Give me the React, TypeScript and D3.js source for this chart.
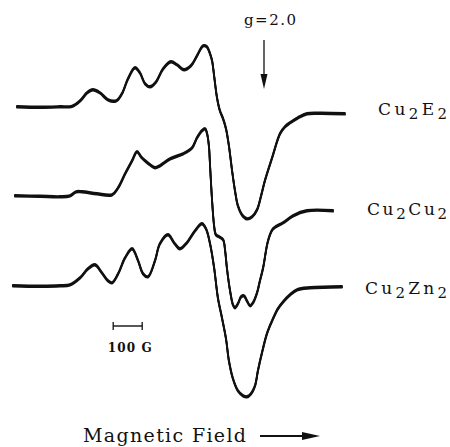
import React from 'react';
import * as d3 from 'd3';

// EPR first-derivative spectra, field in gauss, amplitude in arbitrary units
const e2Field = [2548, 2628, 2697, 2738, 2766, 2790, 2810, 2834, 2862, 2890, 2910, 2931, 2955, 2972, 2990, 3007, 3028, 3052, 3079, 3100, 3124, 3148, 3169, 3190, 3203, 3214, 3221, 3228, 3238, 3248, 3259, 3269, 3279, 3290, 3300, 3310, 3324, 3341, 3359, 3376, 3390, 3403, 3428, 3455, 3472, 3490, 3517, 3548, 3593, 3679];
const e2Signal = [0, -0.005, 0, 0.005, 0.06, 0.14, 0.17, 0.14, 0.07, 0.06, 0.13, 0.28, 0.39, 0.34, 0.23, 0.2, 0.25, 0.38, 0.45, 0.42, 0.37, 0.41, 0.51, 0.61, 0.6, 0.53, 0.46, 0.31, 0.09, -0.04, -0.12, -0.22, -0.39, -0.64, -0.84, -0.99, -1.08, -1.12, -1.1, -1.03, -0.89, -0.74, -0.51, -0.27, -0.2, -0.16, -0.11, -0.07, -0.065, -0.07];

const cuField = [2541, 2628, 2697, 2731, 2752, 2772, 2824, 2876, 2897, 2921, 2945, 2962, 2976, 2990, 3007, 3024, 3041, 3076, 3121, 3152, 3169, 3186, 3197, 3203, 3210, 3214, 3221, 3228, 3234, 3245, 3259, 3266, 3272, 3283, 3293, 3300, 3310, 3321, 3331, 3341, 3352, 3362, 3376, 3386, 3397, 3414, 3431, 3466, 3500, 3548, 3638];
const cuSignal = [0, -0.005, -0.01, 0, 0.04, 0.04, 0.02, 0.01, 0.08, 0.22, 0.35, 0.44, 0.39, 0.35, 0.31, 0.28, 0.3, 0.37, 0.42, 0.48, 0.58, 0.65, 0.67, 0.63, 0.5, 0.3, -0.05, -0.3, -0.39, -0.41, -0.44, -0.55, -0.72, -0.95, -1.09, -1.12, -1.08, -1.01, -1.0, -1.05, -1.1, -1.07, -0.97, -0.85, -0.72, -0.45, -0.33, -0.27, -0.2, -0.15, -0.15];

const znField = [2534, 2628, 2697, 2731, 2766, 2793, 2817, 2841, 2862, 2876, 2897, 2921, 2945, 2966, 2983, 3000, 3024, 3041, 3069, 3090, 3110, 3134, 3162, 3186, 3200, 3214, 3228, 3241, 3255, 3269, 3279, 3293, 3310, 3328, 3341, 3355, 3369, 3379, 3393, 3410, 3428, 3448, 3466, 3490, 3514, 3559, 3669];
const znSignal = [0, -0.005, 0, 0.01, 0.08, 0.17, 0.21, 0.13, 0.05, 0.03, 0.12, 0.28, 0.37, 0.25, 0.12, 0.09, 0.25, 0.42, 0.51, 0.43, 0.37, 0.43, 0.55, 0.62, 0.57, 0.42, 0.18, -0.12, -0.32, -0.53, -0.75, -0.93, -1.05, -1.1, -1.11, -1.08, -1.0, -0.85, -0.67, -0.48, -0.35, -0.23, -0.16, -0.09, -0.04, -0.02, -0.01];

const traceNames = ['Cu2E2', 'Cu2Cu2', 'Cu2Zn2'];
const traceOffsets = [0, -0.89, -1.79];

const gMarkerField = 3400;
const gMarkerLabel = 'g=2.0';
const scaleBarStart = 2880;
const scaleBarGauss = 100;
const scaleBarLabel = '100 G';
const axisTitle = 'Magnetic Field';

const FONT = '"DejaVu Serif", "Liberation Serif", serif';

// split "Cu2E2" into runs, digits become subscripts
function labelParts(name: string) {
  return name.split(/(\d+)/).filter(s => s.length > 0).map(s => ({ text: s, sub: /^\d+$/.test(s) }));
}

export default function App() {
  const width = 450;
  const height = 447;

  const x = d3.scaleLinear().domain([2500, 3700]).range([3, 351]);
  const y = d3.scaleLinear().domain([0, -1]).range([106, 206]);

  const traces = [
    { field: e2Field, signal: e2Signal },
    { field: cuField, signal: cuSignal },
    { field: znField, signal: znSignal },
  ];

  const line = d3.line<[number, number]>()
    .x(d => x(d[0]))
    .y(d => y(d[1]))
    .curve(d3.curveCatmullRom.alpha(0.5));

  const labelX = 447;
  const labelBaseline = [115, 215, 294];
  const labelLengths = [69, 80, 82];

  const gx = x(gMarkerField);
  const sb0 = x(scaleBarStart);
  const sb1 = x(scaleBarStart + scaleBarGauss);
  const sbY = 326;

  return (
    <svg width={width} height={height} style={{ position: 'absolute', left: 0, top: 0, background: '#fff' }}>
      {traces.map((t, i) => {
        const pts = t.field.map((f, k) => [f, t.signal[k] + traceOffsets[i]] as [number, number]);
        const d = line(pts) || '';
        return (
          <g key={traceNames[i]} fill="none" stroke="#111" strokeLinejoin="round" strokeLinecap="round">
            {/* offset passes mimic the chart recorder pen: thick when flat, thin when steep */}
            <path d={d} strokeWidth={1.8} />
            <path d={d} strokeWidth={1.8} transform="translate(0,0.8)" />
            <path d={d} strokeWidth={1.8} transform="translate(0,1.6)" />
          </g>
        );
      })}

      {traceNames.map((name, i) => {
        let shifted = 0;
        return (
          <text key={name} x={labelX} y={labelBaseline[i]} textAnchor="end" fontFamily={FONT}
            fontSize={17} fill="#111" textLength={labelLengths[i]} lengthAdjust="spacing">
            {labelParts(name).map((p, k) => {
              const dy = p.sub ? 4 - shifted : -shifted;
              shifted = p.sub ? 4 : 0;
              return (
                <tspan key={k} dy={dy} fontSize={p.sub ? 15 : 17}>{p.text}</tspan>
              );
            })}
          </text>
        );
      })}

      {/* g = 2.0 marker */}
      <text x={gx + 6} y={25} textAnchor="middle" fontFamily={FONT} fontSize={15} fill="#111"
        textLength={52} lengthAdjust="spacing">{gMarkerLabel}</text>
      <line x1={gx} x2={gx} y1={40} y2={80} stroke="#111" strokeWidth={1.3} />
      <path d={`M${gx - 3.5},${74} L${gx + 3.5},${74} L${gx},${89} Z`} fill="#111" />

      {/* 100 G scale bar */}
      <line x1={sb0} x2={sb1} y1={sbY} y2={sbY} stroke="#111" strokeWidth={1.4} />
      <line x1={sb0} x2={sb0} y1={sbY - 4} y2={sbY + 4} stroke="#111" strokeWidth={1.3} />
      <line x1={sb1} x2={sb1} y1={sbY - 4} y2={sbY + 4} stroke="#111" strokeWidth={1.3} />
      <text x={(sb0 + sb1) / 2 + 2} y={352} textAnchor="middle" fontFamily={FONT} fontSize={12}
        fontWeight="bold" fill="#111" textLength={44} lengthAdjust="spacing">{scaleBarLabel}</text>

      {/* axis title with field arrow */}
      <text x={83} y={442} fontFamily={FONT} fontSize={19} fill="#111"
        textLength={163} lengthAdjust="spacing">{axisTitle}</text>
      <line x1={260} x2={306} y1={436} y2={436} stroke="#111" strokeWidth={1.8} />
      <path d="M302,432 L320,436 L302,440 Z" fill="#111" />
    </svg>
  );
}
